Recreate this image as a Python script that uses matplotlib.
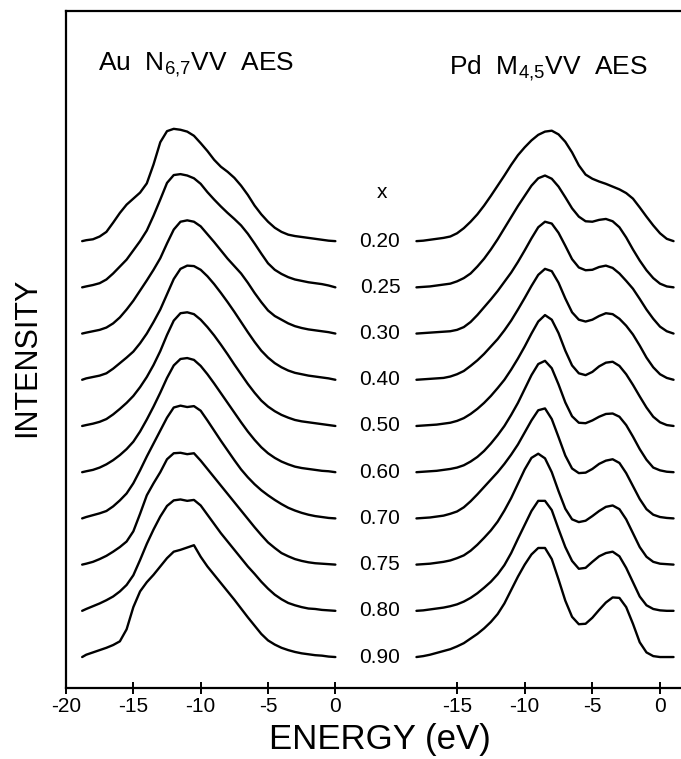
import matplotlib
matplotlib.use("Agg")
import matplotlib.pyplot as plt
from matplotlib.transforms import blended_transform_factory

plt.rcParams["font.family"] = ["Liberation Sans", "DejaVu Sans"]
plt.rcParams["mathtext.default"] = "regular"

# composition labels, top to bottom
X_LABELS = ["0.20", "0.25", "0.30", "0.40", "0.50", "0.60", "0.70", "0.75", "0.80", "0.90"]

LEFT_TICKS = [-20, -15, -10, -5, 0]
LEFT_TICK_LABELS = ["-20", "-15", "-10", "-5", "0"]
RIGHT_TICKS = [-15, -10, -5, 0]
RIGHT_TICK_LABELS = ["-15", "-10", "-5", "0"]

# Au N6,7VV energies (eV) and intensities (in units of the curve spacing)
AU_E = [-18.8, -18.5, -18.0, -17.5, -17.0, -16.5, -16.0, -15.5, -15.0, -14.5,
        -14.0, -13.5, -13.0, -12.5, -12.0, -11.5, -11.0, -10.5, -10.0, -9.5,
        -9.0, -8.5, -8.0, -7.5, -7.0, -6.5, -6.0, -5.5, -5.0, -4.5,
        -4.0, -3.5, -3.0, -2.5, -2.0, -1.5, -1.0, -0.5, 0.0]

AU_020 = [0.0, 0.02, 0.04, 0.1, 0.2, 0.4, 0.61, 0.79, 0.92, 1.05, 1.25, 1.66, 2.14, 2.38, 2.43,
          2.41, 2.37, 2.28, 2.12, 1.95, 1.76, 1.61, 1.5, 1.37, 1.2, 1.0, 0.77, 0.58, 0.42,
          0.29, 0.2, 0.14, 0.11, 0.09, 0.07, 0.05, 0.03, 0.01, 0.0]
AU_025 = [0.0, 0.02, 0.05, 0.09, 0.17, 0.3, 0.45, 0.6, 0.8, 1.0, 1.23, 1.55, 1.9, 2.26, 2.43,
          2.45, 2.42, 2.36, 2.24, 2.06, 1.9, 1.75, 1.61, 1.48, 1.34, 1.16, 0.95, 0.73, 0.52,
          0.38, 0.29, 0.22, 0.17, 0.14, 0.11, 0.09, 0.07, 0.04, 0.0]
AU_030 = [0.0, 0.02, 0.05, 0.08, 0.13, 0.22, 0.35, 0.52, 0.71, 0.93, 1.15, 1.38, 1.63, 1.95, 2.25,
          2.42, 2.45, 2.42, 2.32, 2.15, 1.98, 1.8, 1.62, 1.46, 1.3, 1.1, 0.88, 0.68, 0.5,
          0.38, 0.3, 0.22, 0.16, 0.12, 0.09, 0.07, 0.05, 0.03, 0.0]
AU_040 = [0.0, 0.03, 0.06, 0.09, 0.14, 0.24, 0.36, 0.48, 0.61, 0.79, 1.0, 1.25, 1.52, 1.85, 2.18,
          2.4, 2.47, 2.46, 2.38, 2.24, 2.07, 1.88, 1.68, 1.47, 1.25, 1.03, 0.82, 0.63, 0.48,
          0.36, 0.27, 0.2, 0.15, 0.12, 0.09, 0.07, 0.05, 0.03, 0.0]
AU_050 = [0.0, 0.02, 0.05, 0.09, 0.15, 0.25, 0.37, 0.5, 0.65, 0.84, 1.06, 1.32, 1.62, 1.97, 2.28,
          2.44, 2.46, 2.42, 2.3, 2.14, 1.96, 1.76, 1.55, 1.33, 1.12, 0.91, 0.72, 0.55, 0.42,
          0.32, 0.24, 0.18, 0.13, 0.1, 0.08, 0.06, 0.04, 0.02, 0.0]
AU_060 = [0.0, 0.02, 0.05, 0.1, 0.17, 0.26, 0.37, 0.5, 0.66, 0.88, 1.14, 1.42, 1.72, 2.04, 2.31,
          2.45, 2.47, 2.43, 2.3, 2.12, 1.92, 1.71, 1.5, 1.29, 1.08, 0.88, 0.7, 0.54, 0.41,
          0.31, 0.23, 0.17, 0.12, 0.09, 0.07, 0.05, 0.03, 0.02, 0.0]
AU_070 = [0.0, 0.03, 0.07, 0.11, 0.16, 0.26, 0.39, 0.54, 0.76, 1.04, 1.34, 1.62, 1.9, 2.18, 2.4,
          2.44, 2.41, 2.43, 2.33, 2.12, 1.9, 1.68, 1.47, 1.26, 1.06, 0.89, 0.74, 0.61, 0.5,
          0.4, 0.31, 0.23, 0.17, 0.12, 0.08, 0.05, 0.03, 0.01, 0.0]
AU_075 = [0.0, 0.02, 0.06, 0.12, 0.19, 0.28, 0.38, 0.5, 0.72, 1.1, 1.5, 1.76, 2.0, 2.28, 2.41,
          2.42, 2.39, 2.41, 2.25, 2.07, 1.89, 1.71, 1.53, 1.35, 1.17, 0.99, 0.81, 0.64, 0.48,
          0.36, 0.25, 0.18, 0.12, 0.08, 0.05, 0.03, 0.02, 0.01, 0.0]
AU_080 = [0.0, 0.04, 0.1, 0.16, 0.23, 0.31, 0.42, 0.56, 0.77, 1.1, 1.45, 1.76, 2.04, 2.27, 2.39,
          2.41, 2.38, 2.4, 2.28, 2.08, 1.88, 1.68, 1.5, 1.32, 1.14, 0.96, 0.8, 0.63, 0.48,
          0.35, 0.25, 0.17, 0.12, 0.08, 0.05, 0.04, 0.02, 0.01, 0.0]
AU_090 = [0.0, 0.05, 0.1, 0.15, 0.2, 0.26, 0.34, 0.6, 1.08, 1.42, 1.62, 1.78, 1.96, 2.14, 2.28,
          2.32, 2.37, 2.42, 2.17, 1.96, 1.78, 1.6, 1.42, 1.24, 1.05, 0.86, 0.68, 0.5, 0.36,
          0.27, 0.2, 0.15, 0.11, 0.08, 0.06, 0.04, 0.03, 0.01, 0.0]

# Pd M4,5VV energies (eV) and intensities
PD_E = [-18.0, -17.5, -17.0, -16.5, -16.0, -15.5, -15.0, -14.5, -14.0, -13.5,
        -13.0, -12.5, -12.0, -11.5, -11.0, -10.5, -10.0, -9.5, -9.0, -8.5,
        -8.0, -7.5, -7.0, -6.5, -6.0, -5.5, -5.0, -4.5, -4.0, -3.5,
        -3.0, -2.5, -2.0, -1.5, -1.0, -0.5, 0.0, 0.5, 1.0]

PD_020 = [0.0, 0.01, 0.03, 0.05, 0.07, 0.1, 0.17, 0.28, 0.42, 0.58, 0.77, 0.98, 1.2, 1.42, 1.65,
          1.86, 2.03, 2.18, 2.3, 2.37, 2.39, 2.31, 2.15, 1.92, 1.64, 1.44, 1.35, 1.29, 1.24,
          1.18, 1.12, 1.04, 0.92, 0.73, 0.53, 0.34, 0.17, 0.05, 0.0]
PD_025 = [0.0, 0.01, 0.02, 0.04, 0.06, 0.08, 0.13, 0.2, 0.3, 0.45, 0.62, 0.82, 1.04, 1.28, 1.52,
          1.76, 1.98, 2.2, 2.36, 2.42, 2.35, 2.18, 1.95, 1.71, 1.53, 1.43, 1.42, 1.46, 1.48,
          1.43, 1.3, 1.08, 0.82, 0.58, 0.37, 0.2, 0.08, 0.02, 0.0]
PD_030 = [0.0, 0.01, 0.02, 0.03, 0.04, 0.05, 0.08, 0.14, 0.25, 0.4, 0.57, 0.74, 0.92, 1.12, 1.32,
          1.55, 1.8, 2.06, 2.3, 2.42, 2.38, 2.18, 1.9, 1.61, 1.43, 1.37, 1.38, 1.44, 1.47,
          1.42, 1.3, 1.14, 0.97, 0.75, 0.52, 0.32, 0.15, 0.05, 0.0]
PD_040 = [0.0, 0.01, 0.02, 0.03, 0.04, 0.07, 0.12, 0.19, 0.3, 0.42, 0.56, 0.72, 0.88, 1.07, 1.28,
          1.52, 1.77, 2.03, 2.27, 2.4, 2.35, 2.1, 1.76, 1.46, 1.3, 1.26, 1.3, 1.38, 1.44,
          1.42, 1.32, 1.17, 0.98, 0.74, 0.48, 0.27, 0.12, 0.04, 0.0]
PD_050 = [0.0, 0.01, 0.02, 0.03, 0.05, 0.07, 0.11, 0.17, 0.26, 0.37, 0.5, 0.65, 0.82, 1.0, 1.22,
          1.46, 1.72, 2.0, 2.26, 2.4, 2.3, 2.01, 1.63, 1.31, 1.14, 1.1, 1.17, 1.29, 1.37,
          1.39, 1.3, 1.12, 0.89, 0.64, 0.4, 0.2, 0.08, 0.02, 0.0]
PD_060 = [0.0, 0.01, 0.02, 0.03, 0.05, 0.07, 0.1, 0.15, 0.23, 0.33, 0.46, 0.62, 0.8, 1.0, 1.24,
          1.5, 1.8, 2.1, 2.34, 2.41, 2.25, 1.9, 1.51, 1.21, 1.07, 1.06, 1.12, 1.2, 1.26,
          1.27, 1.2, 1.02, 0.77, 0.5, 0.27, 0.1, 0.04, 0.01, 0.0]
PD_070 = [0.0, 0.01, 0.02, 0.04, 0.06, 0.1, 0.15, 0.24, 0.37, 0.52, 0.68, 0.84, 1.0, 1.18, 1.38,
          1.6, 1.86, 2.12, 2.34, 2.38, 2.15, 1.76, 1.36, 1.08, 0.98, 0.99, 1.07, 1.18, 1.25,
          1.28, 1.2, 0.98, 0.7, 0.42, 0.2, 0.08, 0.03, 0.01, 0.0]
PD_075 = [0.0, 0.01, 0.02, 0.04, 0.06, 0.09, 0.14, 0.2, 0.3, 0.43, 0.58, 0.74, 0.93, 1.17, 1.44,
          1.75, 2.06, 2.31, 2.4, 2.3, 2.0, 1.59, 1.21, 0.98, 0.92, 0.95, 1.05, 1.16, 1.25,
          1.28, 1.2, 0.98, 0.68, 0.38, 0.17, 0.06, 0.02, 0.01, 0.0]
PD_080 = [0.0, 0.01, 0.03, 0.05, 0.07, 0.1, 0.14, 0.2, 0.28, 0.38, 0.5, 0.63, 0.79, 0.99, 1.25,
          1.56, 1.86, 2.16, 2.38, 2.38, 2.18, 1.77, 1.38, 1.08, 0.91, 0.93, 1.06, 1.18, 1.25,
          1.28, 1.18, 0.93, 0.62, 0.31, 0.12, 0.04, 0.01, 0.0, 0.0]
PD_090 = [0.0, 0.02, 0.05, 0.09, 0.13, 0.17, 0.23, 0.3, 0.4, 0.5, 0.62, 0.76, 0.93, 1.16, 1.45,
          1.74, 2.0, 2.22, 2.36, 2.36, 2.12, 1.68, 1.22, 0.87, 0.71, 0.72, 0.85, 1.02, 1.18,
          1.29, 1.28, 1.08, 0.72, 0.32, 0.1, 0.02, 0.0, 0.0, 0.0]

AU_SPECTRA = [AU_020, AU_025, AU_030, AU_040, AU_050, AU_060, AU_070, AU_075, AU_080, AU_090]
PD_SPECTRA = [PD_020, PD_025, PD_030, PD_040, PD_050, PD_060, PD_070, PD_075, PD_080, PD_090]

W, H = 681, 759
fig = plt.figure(figsize=(W / 100, H / 100), dpi=100)

# pixel layout of the plot box (right edge falls outside the picture)
FRAME_L, FRAME_R, FRAME_T, FRAME_B = 66, 700, 11, 688
YLIM = (-0.67, 13.98)


def fig_rect(x0, x1):
    return [x0 / W, 1 - FRAME_B / H, (x1 - x0) / W, (FRAME_B - FRAME_T) / H]


frame = fig.add_axes(fig_rect(FRAME_L, FRAME_R))
frame.set_xticks([])
frame.set_yticks([])
for side in ("left", "top", "bottom", "right"):
    frame.spines[side].set_linewidth(1.6)

# both energy panels use the same eV-per-pixel scale
ax_au = fig.add_axes(fig_rect(66, 362.3))
ax_au.set_xlim(-20, 2)
ax_pd = fig.add_axes(fig_rect(389.4, 700.6))
ax_pd.set_xlim(-20, 3)

n = len(X_LABELS)
for ax, energy, spectra, ticks, labels in (
    (ax_au, AU_E, AU_SPECTRA, LEFT_TICKS, LEFT_TICK_LABELS),
    (ax_pd, PD_E, PD_SPECTRA, RIGHT_TICKS, RIGHT_TICK_LABELS),
):
    ax.set_ylim(*YLIM)
    ax.patch.set_visible(False)
    for s in ax.spines.values():
        s.set_visible(False)
    ax.set_yticks([])
    ax.set_xticks(ticks)
    ax.set_xticklabels(labels, fontsize=15)
    ax.tick_params(axis="x", direction="inout", length=8.5, width=1.4, pad=2.5)
    for i, spec in enumerate(spectra):
        base = n - 1 - i
        ax.plot(energy, [base + v for v in spec], color="black", lw=1.7,
                solid_joinstyle="round", solid_capstyle="round")

# composition labels in the gap between the two panels
trans = blended_transform_factory(fig.transFigure, ax_au.transData)
ax_au.text(382 / W, n - 1 + 1.05, "x", transform=trans, ha="center", va="center", fontsize=15)
for i, lab in enumerate(X_LABELS):
    ax_au.text(380 / W, n - 1 - i, lab, transform=trans, ha="center", va="center", fontsize=15)

fig.text(196 / W, 1 - 65 / H, r"Au  N$_{6{,}7}$VV  AES", ha="center", va="center", fontsize=19)
fig.text(548 / W, 1 - 68 / H, r"Pd  M$_{4{,}5}$VV  AES", ha="center", va="center", fontsize=19)

fig.text(27 / W, 1 - 357 / H, "INTENSITY", rotation=90, ha="center", va="center",
         fontsize=22, family=["Liberation Sans Narrow", "Liberation Sans"])
fig.text(380 / W, 1 - 740 / H, "ENERGY (eV)", ha="center", va="center", fontsize=25)

fig.savefig("out.png", dpi=100)
